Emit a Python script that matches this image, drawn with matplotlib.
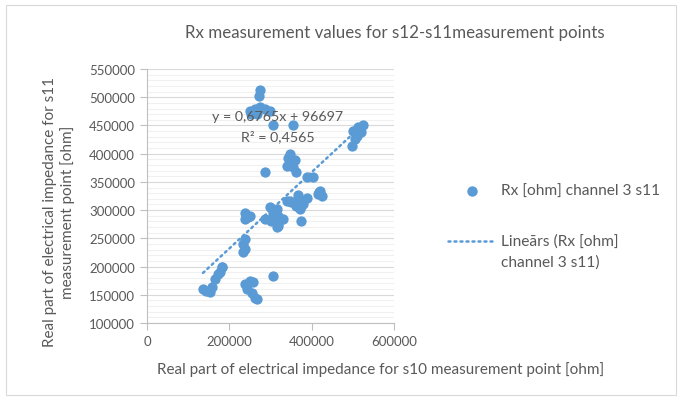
import matplotlib.pyplot as plt
from matplotlib.lines import Line2D
from matplotlib.patches import Rectangle
from matplotlib.ticker import MultipleLocator

# s10 (x) and s11 (y) real part values [ohm]
x_s10 = [274000, 273000, 250000, 262000, 274000, 286000, 298000, 253000, 267000, 306000, 355000,
         347000, 343000, 359000, 339000, 355000, 362000, 286000,
         388000, 404000,
         420000, 424000, 416000, 418000,
         339000, 351000, 367000, 388000, 363000, 375000, 371000, 379000, 315000, 306000,
         319000, 331000, 319000, 373000, 298000, 286000, 302000, 319000, 315000, 347000,
         363000, 379000,
         238000, 250000, 238000, 245000,
         238000, 233000, 238000, 233000,
         181000, 177000, 165000, 157000, 144000, 152000, 136000, 173000, 181000,
         250000, 258000, 238000, 242000, 254000, 262000, 266000,
         306000,
         497000, 501000, 513000, 525000, 521000, 509000, 517000, 505000]
y_s11 = [513000, 503000, 476000, 480000, 482000, 480000, 476000, 470000, 470000, 451000, 451000,
         399000, 392000, 389000, 378000, 376000, 368000, 367000,
         358000, 359000,
         334000, 325000, 328000, 332000,
         317000, 314000, 326000, 321000, 308000, 307000, 302000, 311000, 302000, 293000,
         290000, 284000, 272000, 281000, 305000, 284000, 281000, 275000, 270000, 317000,
         314000, 317000,
         295000, 290000, 284000, 288000,
         249000, 240000, 231000, 225000,
         199000, 190000, 178000, 163000, 157000, 155000, 160000, 187000, 199000,
         175000, 172000, 169000, 160000, 154000, 145000, 143000,
         184000,
         414000, 441000, 447000, 451000, 438000, 432000, 441000, 426000]

# trendline from the chart's equation
slope = 0.6765
intercept = 96697
eq_text = "y = 0,6765x + 96697"
r2_text = "R² = 0,4565"

title = "Rx measurement values for s12-s11measurement points"
xlabel = "Real part of electrical impedance for s10 measurement point [ohm]"
ylabel = "Real part of electrical impedance for s11\nmeasurement point [ohm]"
series_name = "Rx [ohm] channel 3 s11"

blue = "#5B9BD5"
txt = "#595959"
plt.rcParams['font.family'] = ['Lato', 'DejaVu Sans']

fig = plt.figure(figsize=(6.82, 4.02), dpi=100)
W, H = 682, 402
fig.add_artist(Rectangle((6 / W, 6 / H), 670 / W, 390 / H, transform=fig.transFigure,
                         fill=False, edgecolor="#D9D9D9", lw=0.8))

ax = fig.add_axes([147 / W, 1 - 324 / H, 247 / W, 254 / H])
ax.set_xlim(0, 600000)
ax.set_ylim(100000, 550000)
ax.xaxis.set_major_locator(MultipleLocator(200000))
ax.yaxis.set_major_locator(MultipleLocator(50000))
ax.yaxis.set_minor_locator(MultipleLocator(10000))
ax.grid(axis='y', which='major', color="#D9D9D9", lw=0.8)
ax.grid(axis='y', which='minor', color="#F0F0F0", lw=0.8)
ax.set_axisbelow(True)
for s in ['top', 'right']:
    ax.spines[s].set_visible(False)
for s in ['left', 'bottom']:
    ax.spines[s].set_color("#BFBFBF")
    ax.spines[s].set_linewidth(0.8)
ax.tick_params(which='major', length=5, color="#BFBFBF", labelsize=9.5, labelcolor=txt)
ax.tick_params(which='minor', length=0)
ax.ticklabel_format(style='plain')

ax.scatter(x_s10, y_s11, s=55, color=blue, zorder=3, linewidths=0)
xs = [min(x_s10), max(x_s10)]
ax.plot(xs, [slope * v + intercept for v in xs], color=blue, lw=1.8,
        linestyle=(0, (0.8, 1.6)), dash_capstyle='round', zorder=4)

ax.text(318000, 467000, eq_text, ha='center', va='center', fontsize=10.3, color=txt, zorder=5)
ax.text(318000, 432000, r2_text, ha='center', va='center', fontsize=10.3, color=txt, zorder=5)

fig.text(395 / W, 1 - 33 / H, title, ha='center', va='center', fontsize=12.2, color=txt)
fig.text(381 / W, 1 - 370 / H, xlabel, ha='center', va='center', fontsize=11, color=txt)
fig.text(59 / W, 1 - 212 / H, ylabel, ha='center', va='center', rotation=90,
         fontsize=11, color=txt, linespacing=1.25)

# legend drawn by hand to keep the handle on the first text line
fig.add_artist(Line2D([472 / W], [1 - 192 / H], marker='o', markersize=7.5, color=blue,
                      markeredgewidth=0, transform=fig.transFigure))
fig.text(501 / W, 1 - 192 / H, series_name, ha='left', va='center', fontsize=11.2, color=txt)
fig.add_artist(Line2D([448 / W, 494 / W], [1 - 242 / H, 1 - 242 / H], color=blue, lw=1.8,
                      linestyle=(0, (0.8, 1.6)), dash_capstyle='round', transform=fig.transFigure))
fig.text(501 / W, 1 - 242 / H, "Lineārs (Rx [ohm]", ha='left', va='center', fontsize=11.2, color=txt)
fig.text(501 / W, 1 - 263 / H, "channel 3 s11)", ha='left', va='center', fontsize=11.2, color=txt)

fig.savefig("out.png", dpi=100)
